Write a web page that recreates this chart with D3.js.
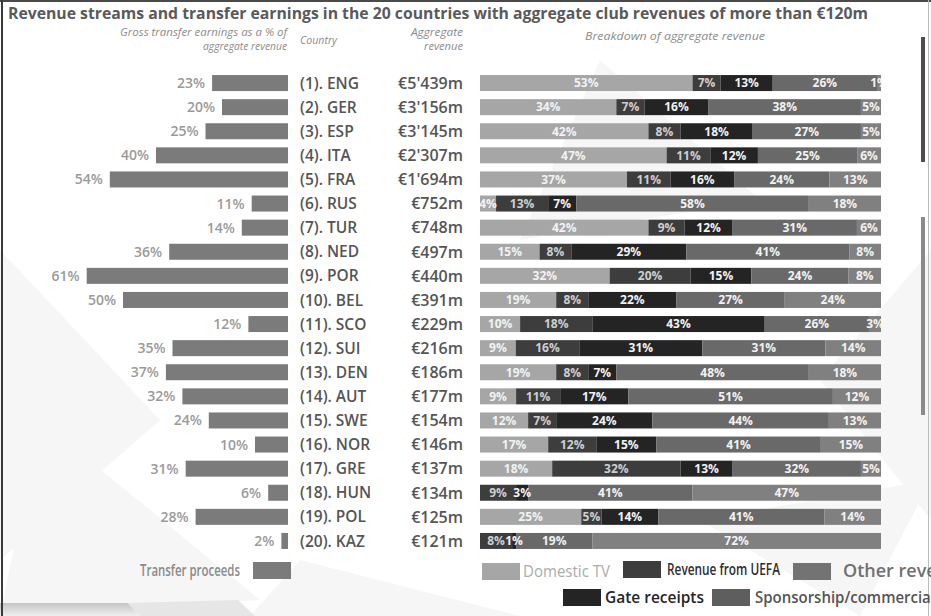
<!DOCTYPE html>
<html><head><meta charset="utf-8">
<script src="https://cdn.jsdelivr.net/npm/d3@7"></script>
<style>body{margin:0;background:#fff;overflow:hidden} svg{display:block}</style>
</head><body>
<svg id="c" width="931" height="616"></svg>
<script>
const countries = ["(1). ENG","(2). GER","(3). ESP","(4). ITA","(5). FRA","(6). RUS","(7). TUR","(8). NED","(9). POR","(10). BEL","(11). SCO","(12). SUI","(13). DEN","(14). AUT","(15). SWE","(16). NOR","(17). GRE","(18). HUN","(19). POL","(20). KAZ"];
const revenues = ["€5'439m","€3'156m","€3'145m","€2'307m","€1'694m","€752m","€748m","€497m","€440m","€391m","€229m","€216m","€186m","€177m","€154m","€146m","€137m","€134m","€125m","€121m"];
const transferPct = [23,20,25,40,54,11,14,36,61,50,12,35,37,32,24,10,31,6,28,2];
const domesticTV  = [53,34,42,47,37,4,42,15,32,19,10,9,19,9,12,17,18,0,25,0];
const uefa        = [7,7,8,11,11,13,9,8,20,8,18,16,8,11,7,12,32,9,5,8];
const gate        = [13,16,18,12,16,7,12,29,15,22,43,31,7,17,24,15,13,3,14,1];
const sponsorship = [26,38,27,25,24,58,31,41,24,27,26,31,48,51,44,41,32,41,41,19];
const other       = [1,5,5,6,13,18,6,8,8,24,3,14,18,12,13,15,5,47,14,72];
const seriesKeys  = ["Domestic TV","Revenue from UEFA","Gate receipts","Sponsorship/commercial","Other revenue"];

const svg = d3.select("#c");
const FONT = "'Open Sans', 'DejaVu Sans', sans-serif";

// background decoration
const bg = svg.append("g");
bg.append("rect").attr("width",931).attr("height",616).attr("fill","#ffffff");
const tri = [
  [[0,250],[160,420],[0,560]], [[40,420],[260,600],[0,616]], [[600,60],[760,200],[520,240]],
  [[820,380],[931,250],[931,520]], [[300,560],[520,616],[250,616]], [[700,520],[931,480],[860,616]]
];
bg.selectAll("polygon.t").data(tri).join("polygon").attr("class","t")
  .attr("points", d=>d.map(p=>p.join(",")).join(" ")).attr("fill","#f6f6f6");
const grad = svg.append("defs").append("linearGradient").attr("id","bandg").attr("x1",0).attr("y1",0).attr("x2",0).attr("y2",1);
grad.append("stop").attr("offset","0").attr("stop-color","#c4c4c4");
grad.append("stop").attr("offset","1").attr("stop-color","#efefef");
bg.append("polygon").attr("points","0,603 128,603 140,616 0,616").attr("fill","url(#bandg)");
bg.append("polygon").attr("points","128,603 238,600 255,616 140,616").attr("fill","#e6e6e6");

// frame
svg.append("rect").attr("x",0).attr("y",0).attr("width",931).attr("height",2).attr("fill","#4a4a4a");
svg.append("rect").attr("x",1).attr("y",0).attr("width",2).attr("height",616).attr("fill","#3a3a3a");
svg.append("rect").attr("x",928).attr("y",0).attr("width",1).attr("height",616).attr("fill","#bbbbbb");
svg.append("rect").attr("x",921).attr("y",37).attr("width",4).attr("height",125).attr("fill","#4d4d4d");
svg.append("rect").attr("x",921).attr("y",217).attr("width",4).attr("height",198).attr("fill","#8a8a8a");

// title
svg.append("text").attr("x",8).attr("y",19)
  .attr("font-family",FONT).attr("font-weight",700).attr("font-size",16).attr("fill","#5a5a5a")
  .attr("textLength",860).attr("lengthAdjust","spacingAndGlyphs")
  .text("Revenue streams and transfer earnings in the 20 countries with aggregate club revenues of more than €120m");

// headers
const headers = [
  {t:"Gross transfer earnings as a % of", x:287, y:36, a:"end", len:167},
  {t:"aggregate revenue", x:287, y:50, a:"end", len:84},
  {t:"Country", x:300, y:44, a:"start", len:37},
  {t:"Aggregate", x:463, y:36, a:"end", len:52},
  {t:"revenue", x:463, y:50, a:"end", len:39},
  {t:"Breakdown of aggregate revenue", x:585, y:40, a:"start", len:180}
];
svg.append("g").attr("font-family",FONT).attr("font-style","italic").attr("font-size",11).attr("fill","#8c8c8c")
  .selectAll("text").data(headers).join("text")
  .attr("x",d=>d.x).attr("y",d=>d.y).attr("text-anchor",d=>d.a)
  .attr("textLength",d=>d.len).attr("lengthAdjust","spacingAndGlyphs").text(d=>d.t);

// scales
const y = d3.scaleBand().domain(countries).range([71,553]).paddingInner(0.336).paddingOuter(0.168);
const xT = d3.scaleLinear().domain([0,100]).range([0,330]);
const xR = 288;
const xS = d3.scaleLinear().domain([0,1]).range([480,881]);

// transfer bars
const gT = svg.append("g");
gT.selectAll("rect").data(transferPct).join("rect")
  .attr("x",(d)=>xR - xT(d)).attr("width",d=>xT(d))
  .attr("y",(d,i)=>y(countries[i])).attr("height",y.bandwidth()).attr("fill","#7b7b7b");
gT.selectAll("text").data(transferPct).join("text")
  .attr("x",d=>xR - xT(d) - 7).attr("y",(d,i)=>y(countries[i])+y.bandwidth()/2)
  .attr("dy","0.36em").attr("text-anchor","end")
  .attr("font-family",FONT).attr("font-weight",600).attr("font-size",14).attr("fill","#9a9a9a")
  .text(d=>d+"%");

// country + revenue
svg.append("g").selectAll("text").data(countries).join("text")
  .attr("x",300).attr("y",d=>y(d)+y.bandwidth()/2).attr("dy","0.36em")
  .attr("font-family",FONT).attr("font-weight",600).attr("font-size",15.5).attr("fill","#555")
  .text(d=>d);
svg.append("g").selectAll("text").data(revenues).join("text")
  .attr("x",463).attr("y",(d,i)=>y(countries[i])+y.bandwidth()/2).attr("dy","0.36em").attr("text-anchor","end")
  .attr("font-family",FONT).attr("font-weight",600).attr("font-size",16).attr("fill","#555")
  .text(d=>d);

// stacked bars
const rows = countries.map((c,i)=>({country:c,
  "Domestic TV":domesticTV[i],"Revenue from UEFA":uefa[i],"Gate receipts":gate[i],
  "Sponsorship/commercial":sponsorship[i],"Other revenue":other[i]}));
const stack = d3.stack().keys(seriesKeys).offset(d3.stackOffsetExpand)(rows);
const colors = d3.scaleOrdinal().domain(seriesKeys).range(["#a6a6a6","#3d3d3d","#242424","#696969","#808080"]);

svg.append("defs").append("clipPath").attr("id","clipS")
  .append("rect").attr("x",480).attr("y",60).attr("width",402).attr("height",500);
const gS = svg.append("g").attr("clip-path","url(#clipS)");
const layer = gS.selectAll("g.layer").data(stack).join("g").attr("class","layer").attr("fill",d=>colors(d.key));
layer.selectAll("rect").data(d=>d).join("rect")
  .attr("x",d=>xS(d[0])).attr("width",d=>xS(d[1])-xS(d[0]))
  .attr("y",d=>y(d.data.country)).attr("height",y.bandwidth());
const lbl = gS.append("g").attr("font-family",FONT).attr("font-weight",700).attr("font-size",12).attr("text-anchor","middle");
stack.forEach(s=>{
  lbl.selectAll(null).data(s.filter(d=>d.data[s.key]>0)).join("text")
    .attr("x",d=>(xS(d[0])+xS(d[1]))/2).attr("y",d=>y(d.data.country)+y.bandwidth()/2).attr("dy","0.36em")
    .attr("fill", s.key==="Revenue from UEFA" ? "#cfcfcf" : "#f2f2f2")
    .text(d=>d.data[s.key]+"%");
});

// legend
const lg = svg.append("g").attr("font-family",FONT).attr("font-weight",600);
const legendItems = [
  {label:"Transfer proceeds", sx:253, sy:562, tx:240, anchor:"end", len:100, fs:17, sw:"#7b7b7b", tc:"#8a8a8a", w:600},
  {label:"Domestic TV", sx:482, sy:563, tx:523, anchor:"start", len:87, fs:17, sw:colors("Domestic TV"), tc:"#ababab", w:400},
  {label:"Revenue from UEFA", sx:623, sy:561, tx:667, anchor:"start", len:113, fs:17, sw:colors("Revenue from UEFA"), tc:"#2e2e2e", w:600},
  {label:"Other revenue", sx:793, sy:563, tx:843, anchor:"start", len:null, fs:18, sw:"#737373", tc:"#707070", w:600},
  {label:"Gate receipts", sx:563, sy:589, tx:605, anchor:"start", len:99, fs:17, sw:colors("Gate receipts"), tc:"#262626", w:600},
  {label:"Sponsorship/commercial", sx:712, sy:589, tx:755, anchor:"start", len:180, fs:17, sw:"#5e5e5e", tc:"#555555", w:600}
];
lg.selectAll("rect").data(legendItems).join("rect")
  .attr("x",d=>d.sx).attr("y",d=>d.sy).attr("width",38).attr("height",17).attr("fill",d=>d.sw);
lg.selectAll("text").data(legendItems).join("text")
  .attr("x",d=>d.tx).attr("y",d=>d.sy+14).attr("text-anchor",d=>d.anchor)
  .attr("font-weight",d=>d.w).attr("font-size",d=>d.fs)
  .attr("textLength",d=>d.len).attr("lengthAdjust",d=>d.len ? "spacingAndGlyphs" : null)
  .attr("fill",d=>d.tc).text(d=>d.label);
</script>
</body></html>
